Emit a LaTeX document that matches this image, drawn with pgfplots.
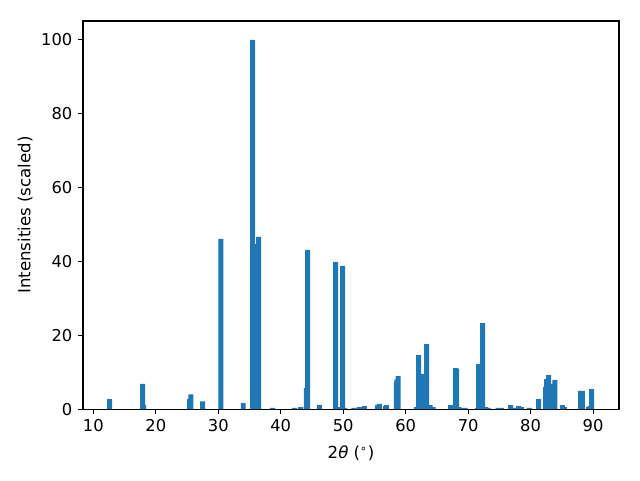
\documentclass[border=0pt]{standalone}
\usepackage{fontspec}
\setmainfont{DejaVu Sans}
\usepackage{pgfplots}
\pgfplotsset{compat=1.18}
\definecolor{mplblue}{HTML}{1F77B4}

\begin{document}
\fontsize{12}{14}\selectfont
\begin{tikzpicture}
  \begin{axis}[
    scale only axis,
    width=385.9bp,
    height=279.4bp,
    xmin=8.35, xmax=94.15,
    ymin=0, ymax=105.1,
    xtick={10,20,...,90},
    ytick={0,20,...,100},
    xtick pos=left, ytick pos=left,
    tick align=outside,
    major tick length=3.5bp,
    tick style={black, line width=0.8bp},
    axis line style={line width=0.8bp},
    tick label style={font=\fontsize{11.8}{14}\selectfont},
    /pgf/number format/assume math mode=true,
    xlabel={2{\itshape θ} (\textsuperscript{∘})},
    ylabel={Intensities (scaled)},
    label style={font=\fontsize{12}{14}\selectfont},
    ylabel style={yshift=-2bp},
    xlabel style={yshift=-1.5bp},
    ybar, bar width=0.8, bar shift=0pt,
  ]
    \addplot[draw=none, fill=mplblue] coordinates {
      (12.6,2.7) (17.9,6.8) (18.05,1.1) (25.4,2.7) (25.6,4.0) (27.5,2.1)
      (30.4,46.1) (34.0,1.6) (35.5,100) (36.0,44.7) (36.45,46.6) (38.7,0.3)
      (42.2,0.3) (43.2,0.5) (44.1,5.7) (44.3,43.1) (46.2,1.1) (48.8,39.8)
      (49.1,0.5) (49.9,38.8) (50.2,0.3) (51.7,0.3) (52.6,0.5) (53.4,0.8)
      (55.5,1.1) (55.8,1.4) (56.8,0.8) (56.9,1.1) (58.5,7.3) (58.6,8.0)
      (58.8,8.9) (61.75,0.5) (62.07,14.6) (62.9,9.5) (63.35,17.6) (63.9,1.1)
      (64.4,0.5) (67.2,1.1) (68.0,11.1) (68.15,10.9) (68.5,0.5) (69.2,0.3)
      (69.5,0.3) (71.5,0.3) (71.67,12.2) (72.3,23.3) (72.8,0.5) (73.2,0.3)
      (74.8,0.3) (75.3,0.3) (76.8,1.1) (77.3,0.3) (78.07,0.8) (78.5,0.5)
      (79.8,0.3) (81.3,2.7) (82.4,6.0) (82.55,8.1) (82.9,9.2) (83.3,3.0)
      (83.7,6.8) (83.9,7.9) (85.1,1.1) (85.4,0.5) (88.0,4.9) (88.3,4.9)
      (89.3,0.5) (89.5,0.8) (89.76,5.4)
    };
  \end{axis}
  \path[use as bounding box] (-59.76bp,-51.12bp) rectangle (401.0bp,294.5bp);
\end{tikzpicture}
\end{document}
